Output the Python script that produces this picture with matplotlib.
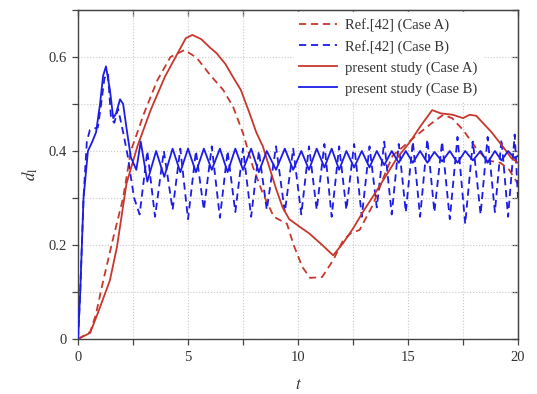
import numpy as np
import matplotlib
matplotlib.use("Agg")
import matplotlib.pyplot as plt
from matplotlib.ticker import MultipleLocator

plt.rcParams.update({
    "font.family": "Liberation Serif",
    "mathtext.fontset": "stix",
    "font.size": 10,
})

# ── data ──────────────────────────────────────────────────────────────────────

# Ref.[42] (Case A) - red dashed
ref_a_t = [0, 0.55, 0.8, 1.15, 1.6, 2.05, 2.4, 3.0, 3.6, 4.2, 4.85, 5.4, 6.0, 6.6,
           7.05, 7.5, 7.95, 8.4, 8.9, 9.5, 9.8, 10.2, 10.55, 11.1, 11.6, 12.05,
           12.4, 12.8, 13.4, 13.9, 14.3, 14.8, 15.3, 16.1, 16.6, 17.0, 17.5,
           18.1, 18.6, 19.2, 19.6, 20.0]
ref_a_d = [0, 0.015, 0.05, 0.125, 0.215, 0.30, 0.40, 0.48, 0.55, 0.60, 0.615,
           0.598, 0.562, 0.53, 0.494, 0.438, 0.366, 0.31, 0.26, 0.245, 0.20,
           0.153, 0.13, 0.132, 0.168, 0.21, 0.225, 0.232, 0.285, 0.345, 0.39,
           0.41, 0.43, 0.46, 0.477, 0.47, 0.445, 0.406, 0.38, 0.375, 0.36, 0.33]

# present study (Case A) - red solid
pres_a_t = [0, 0.55, 0.9, 1.45, 1.77, 2.2, 2.7, 3.3, 3.95, 4.55, 4.9, 5.2, 5.6,
            6.0, 6.3, 6.7, 7.05, 7.4, 7.8, 8.1, 8.4, 8.7, 9.0, 9.3, 9.6, 10.1,
            10.5, 11.1, 11.6, 12.05, 12.5, 13.0, 13.5, 13.9, 14.5, 15.1, 15.6,
            16.1, 16.5, 17.05, 17.5, 17.8, 18.1, 18.4, 18.8, 19.3, 19.7, 20.0]
pres_a_d = [0, 0.013, 0.055, 0.125, 0.196, 0.33, 0.41, 0.487, 0.558, 0.61, 0.64,
            0.647, 0.638, 0.62, 0.608, 0.585, 0.557, 0.53, 0.48, 0.44, 0.41,
            0.365, 0.32, 0.28, 0.255, 0.238, 0.225, 0.20, 0.178, 0.204, 0.235,
            0.274, 0.31, 0.34, 0.385, 0.42, 0.455, 0.487, 0.48, 0.477, 0.47,
            0.477, 0.475, 0.46, 0.44, 0.41, 0.385, 0.375]

# Ref.[42] (Case B) - blue dashed
ref_b_t = [0, 0.1, 0.25, 0.4, 0.54, 0.9, 1.05, 1.2, 1.36, 1.5, 1.65, 1.82, 2.05,
           2.27, 2.4, 2.55, 2.8, 3.15, 3.5, 3.9, 4.3, 4.65, 5.0, 5.36, 5.72,
           6.08, 6.45, 6.8, 7.15, 7.5, 7.87, 8.22, 8.58, 9.0, 9.4, 9.78, 10.15,
           10.5, 10.85, 11.2, 11.53, 11.87, 12.2, 12.55, 12.9, 13.25, 13.58,
           13.92, 14.26, 14.58, 14.9, 15.22, 15.55, 15.88, 16.2, 16.55, 16.9,
           17.25, 17.6, 17.95, 18.3, 18.62, 18.95, 19.25, 19.55, 19.85, 20.0]
ref_b_d = [0, 0.1, 0.3, 0.42, 0.445, 0.45, 0.50, 0.555, 0.565, 0.47, 0.46, 0.49,
           0.44, 0.387, 0.345, 0.30, 0.265, 0.40, 0.26, 0.40, 0.275, 0.405,
           0.255, 0.40, 0.275, 0.41, 0.258, 0.40, 0.27, 0.405, 0.26, 0.40,
           0.275, 0.41, 0.27, 0.405, 0.265, 0.41, 0.275, 0.415, 0.26, 0.41,
           0.275, 0.415, 0.26, 0.41, 0.28, 0.42, 0.265, 0.415, 0.27, 0.42,
           0.26, 0.425, 0.27, 0.42, 0.255, 0.43, 0.245, 0.42, 0.265, 0.43,
           0.27, 0.425, 0.26, 0.435, 0.30]

# present study (Case B) - blue solid
pres_b_t = [0, 0.1, 0.25, 0.45, 0.65, 0.82, 1.0, 1.14, 1.27, 1.45, 1.6, 1.73,
            1.91, 2.05, 2.2, 2.4, 2.65, 2.85, 3.15, 3.55, 3.92, 4.3, 4.65, 5.0,
            5.36, 5.72, 6.08, 6.45, 6.8, 7.15, 7.5, 7.87, 8.22, 8.58, 9.0, 9.4,
            9.78, 10.15, 10.5, 10.85, 11.2, 11.53, 11.87, 12.2, 12.55, 12.9,
            13.25, 13.58, 13.92, 14.26, 14.58, 14.9, 15.22, 15.55, 15.88, 16.2,
            16.55, 16.9, 17.25, 17.6, 17.95, 18.3, 18.62, 18.95, 19.25, 19.55,
            19.85, 20.0]
pres_b_d = [0, 0.1, 0.3, 0.40, 0.42, 0.44, 0.50, 0.56, 0.58, 0.53, 0.47, 0.48,
            0.51, 0.50, 0.45, 0.387, 0.36, 0.42, 0.335, 0.40, 0.345, 0.405,
            0.355, 0.405, 0.355, 0.405, 0.36, 0.405, 0.355, 0.405, 0.36, 0.405,
            0.355, 0.40, 0.36, 0.405, 0.36, 0.40, 0.36, 0.405, 0.365, 0.405,
            0.36, 0.40, 0.365, 0.40, 0.365, 0.40, 0.37, 0.40, 0.375, 0.40,
            0.375, 0.40, 0.375, 0.398, 0.378, 0.40, 0.375, 0.40, 0.38, 0.40,
            0.375, 0.40, 0.38, 0.40, 0.385, 0.39]

RED = "#c8372d"
BLUE = "#1c1ce6"
AXC = "#444444"

fig = plt.figure(figsize=(5.37, 3.94), dpi=100)
ax = fig.add_axes([0.1453, 0.1396, 0.8193, 0.835])

ax.plot(ref_a_t, ref_a_d, color=RED, lw=1.3, dashes=(4, 2.6),
        label="Ref.[42] (Case A)", zorder=3)
ax.plot(ref_b_t, ref_b_d, color=BLUE, lw=1.3, dashes=(4, 2.6),
        label="Ref.[42] (Case B)", zorder=3)
ax.plot(pres_a_t, pres_a_d, color=RED, lw=1.3,
        label="present study (Case A)", zorder=4)
ax.plot(pres_b_t, pres_b_d, color=BLUE, lw=1.3,
        label="present study (Case B)", zorder=4)

# ── axes decoration ──────────────────────────────────────────────────────────
ax.set_xlim(0, 20)
ax.set_ylim(0, 0.7)
ax.xaxis.set_minor_locator(MultipleLocator(2.5))
ax.yaxis.set_minor_locator(MultipleLocator(0.1))
ax.set_xticks([0, 5, 10, 15, 20])
ax.set_xticklabels(["0", "5", "10", "15", "20"])
ax.set_yticks([0, 0.2, 0.4, 0.6])
ax.set_yticklabels(["0", "0.2", "0.4", "0.6"])

ax.grid(which="both", color="#c8c8c8", linestyle=":", linewidth=0.8, zorder=0)
ax.tick_params(which="both", length=4, width=0.9, color=AXC,
               labelcolor="#333333", labelsize=10.5)
ax.tick_params(which="both", axis="x", direction="out", pad=5)
ax.tick_params(which="both", axis="y", direction="out", pad=4)

# right/top ticks point inward, no labels
sec_r = ax.secondary_yaxis("right")
sec_r.set_yticks(np.arange(0, 0.71, 0.1))
sec_r.set_yticklabels([])
sec_r.tick_params(direction="in", length=4, width=0.9, color=AXC)
sec_r.spines["right"].set_color(AXC)
sec_t = ax.secondary_xaxis("top")
sec_t.set_xticks(np.arange(0, 20.1, 2.5))
sec_t.set_xticklabels([])
sec_t.tick_params(direction="in", length=4, width=0.9, color=AXC)
sec_t.spines["top"].set_color(AXC)
for side in ["left", "bottom", "right", "top"]:
    ax.spines[side].set_color(AXC)
    ax.spines[side].set_linewidth(1.0)

ax.set_xlabel("$t$", fontsize=12, color="#333333", labelpad=9)
ax.set_ylabel(r"$d_\mathrm{l}$", fontsize=12, color="#333333", labelpad=6)

leg = ax.legend(loc="upper left", bbox_to_anchor=(0.49, 0.993), borderaxespad=0,
                fontsize=10.5, frameon=True, facecolor="white", edgecolor="none",
                framealpha=1, handlelength=2.6, handletextpad=0.5,
                labelspacing=0.52, borderpad=0.4, fancybox=False)
for txt in leg.get_texts():
    txt.set_color("#333333")

fig.savefig("out.png", dpi=100)
